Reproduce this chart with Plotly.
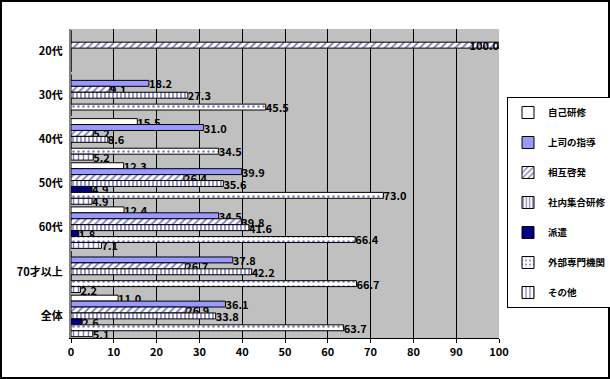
import plotly.graph_objects as go

categories = ["20代", "30代", "40代", "50代", "60代", "70才以上", "全体"]
series_names = ["自己研修", "上司の指導", "相互啓発", "社内集合研修", "派遣", "外部専門機関", "その他"]

jiko_kenshu = [0, 0, 15.5, 12.3, 12.4, 0, 11.0]
joshi_shido = [0, 18.2, 31.0, 39.9, 34.5, 37.8, 36.1]
sogo_keihatsu = [100.0, 9.1, 5.2, 26.4, 39.8, 26.7, 26.9]
shanai_shugo = [0, 27.3, 8.6, 35.6, 41.6, 42.2, 33.8]
haken = [0, 0, 0, 4.9, 1.8, 0, 2.6]
gaibu_senmon = [0, 45.5, 34.5, 73.0, 66.4, 66.7, 63.7]
sonota = [0, 0, 5.2, 4.9, 7.1, 2.2, 5.1]

x_ticks = list(range(0, 101, 10))

series_values = [jiko_kenshu, joshi_shido, sogo_keihatsu, shanai_shugo, haken, gaibu_senmon, sonota]
styles = [
    dict(color="white", pattern=dict(shape="")),
    dict(color="#9999FF", pattern=dict(shape="")),
    dict(color="white", pattern=dict(shape="/", fgcolor="#000080", size=5, solidity=0.35)),
    dict(color="white", pattern=dict(shape="|", fgcolor="#000080", size=4, solidity=0.4)),
    dict(color="#000080", pattern=dict(shape="")),
    dict(color="white", pattern=dict(shape=".", fgcolor="#000080", size=5, solidity=0.2)),
    dict(color="white", pattern=dict(shape="|", fgcolor="#000080", size=5, solidity=0.3)),
]

FONT = "Noto Sans CJK JP"
fig = go.Figure()
for i, (name, vals, st) in enumerate(zip(series_names, series_values, styles)):
    texts = [f"<b>{v:.1f}</b>" if v > 0 else "" for v in vals]
    positions = ["inside" if v >= 100 else "outside" for v in vals]
    fig.add_trace(go.Bar(
        y=categories, x=vals, name=f"<b>{name}</b>", orientation="h",
        marker=dict(color=st["color"], pattern=st["pattern"],
                    line=dict(color="black", width=1)),
        text=texts, textposition=positions,
        insidetextanchor="end",
        textfont=dict(family=FONT, size=11, color="black"),
        constraintext="none", cliponaxis=False,
        legendgroup=name,
    ))

W, H = 610, 379
L, R, T, B = 71, 111, 29, 41
pw, ph = W - L - R, H - T - B

fig.update_layout(
    width=W, height=H,
    margin=dict(l=L, r=R, t=T, b=B, autoexpand=False),
    barmode="group", bargap=0.06, bargroupgap=0,
    paper_bgcolor="white", plot_bgcolor="#C0C0C0",
    font=dict(family=FONT, size=11, color="black"),
    xaxis=dict(range=[0, 100], tickvals=x_ticks,
               ticktext=[f"<b>{t}</b>" for t in x_ticks],
               showgrid=True, gridcolor="black", gridwidth=1,
               showline=True, linecolor="black", ticks="outside",
               ticklen=4, tickcolor="black", zeroline=False,
               tickfont=dict(family=FONT, size=11)),
    yaxis=dict(autorange="reversed", showline=True, linecolor="#808080",
               linewidth=2, tickvals=categories,
               ticktext=[f"<b>{c}</b>" for c in categories],
               tickfont=dict(family=FONT, size=11), ticks="", ticklabelstandoff=4),
    legend=dict(xref="container", yref="container",
                x=507 / W, y=1 - 97 / H, xanchor="left", yanchor="top",
                bgcolor="white", bordercolor="black", borderwidth=1,
                traceorder="grouped", tracegroupgap=11, maxheight=260,
                font=dict(family=FONT, size=9.5),
                itemwidth=30),
    showlegend=True,
    shapes=[dict(type="rect", xref="paper", yref="paper",
                 x0=-(L - 1) / pw, x1=1 + (R - 1) / pw,
                 y0=-(B - 1) / ph, y1=1 + (T - 1) / ph,
                 line=dict(color="black", width=2))],
)
fig.write_html("out.html", config={"displayModeBar": False},
               post_script="document.body.style.margin='0';document.body.style.overflow='hidden';")
